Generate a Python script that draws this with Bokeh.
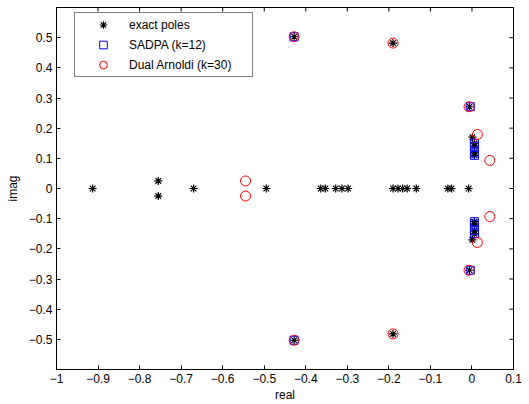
import math
from bokeh.plotting import figure
from bokeh.models import (ColumnDataSource, FixedTicker, Range1d,
                          Legend, LegendItem)
from bokeh.embed import file_html
from bokeh.resources import INLINE

# exact poles of the system (real, imaginary parts)
exact_re = [-0.913, -0.670, -0.495, -0.364, -0.353, -0.328, -0.313, -0.298,
            -0.190, -0.178, -0.167, -0.156, -0.134, -0.058, -0.049, -0.008,
            -0.755, -0.755, -0.428, -0.428, -0.190, -0.190, -0.006, -0.006,
            0.001, 0.001, 0.006, 0.006, 0.006, 0.006, 0.006, 0.006, 0.006, 0.006]
exact_im = [0.0, 0.0, 0.0, 0.0, 0.0, 0.0, 0.0, 0.0,
            0.0, 0.0, 0.0, 0.0, 0.0, 0.0, 0.0, 0.0,
            0.025, -0.025, 0.503, -0.503, 0.482, -0.482, 0.271, -0.271,
            0.170, -0.170, 0.150, -0.150, 0.140, -0.140, 0.118, -0.118, 0.110, -0.110]

# dominant poles found by SADPA
sadpa_re = [-0.428, -0.428, -0.004, -0.004, 0.006, 0.006, 0.006, 0.006,
            0.006, 0.006, 0.006, 0.006]
sadpa_im = [0.503, -0.503, 0.271, -0.271, 0.150, -0.150, 0.140, -0.140,
            0.118, -0.118, 0.110, -0.110]

# poles from dual Arnoldi
dual_re = [-0.545, -0.545, -0.428, -0.428, -0.190, -0.190, -0.007, -0.007,
           0.013, 0.013, 0.043, 0.043]
dual_im = [0.025, -0.025, 0.503, -0.503, 0.482, -0.482, 0.271, -0.271,
           0.179, -0.179, 0.093, -0.093]

x_ticks = [-1.0, -0.9, -0.8, -0.7, -0.6, -0.5, -0.4, -0.3, -0.2, -0.1, 0.0, 0.1]
x_labels = ["\u22121", "\u22120.9", "\u22120.8", "\u22120.7", "\u22120.6", "\u22120.5",
            "\u22120.4", "\u22120.3", "\u22120.2", "\u22120.1", "0", "0.1"]
y_ticks = [-0.5, -0.4, -0.3, -0.2, -0.1, 0.0, 0.1, 0.2, 0.3, 0.4, 0.5]
y_labels = ["\u22120.5", "\u22120.4", "\u22120.3", "\u22120.2", "\u22120.1", "0",
            "0.1", "0.2", "0.3", "0.4", "0.5"]

X_MIN, X_MAX = -1.0, 0.1
Y_MIN, Y_MAX = -0.6, 0.6
FONT = "Liberation Sans"

p = figure(width=529, height=404, output_backend="svg", toolbar_location=None,
           x_range=Range1d(X_MIN, X_MAX), y_range=Range1d(Y_MIN, Y_MAX),
           min_border_left=56, min_border_right=16, min_border_top=7,
           min_border_bottom=32, x_axis_label="real", y_axis_label="imag")
p.xgrid.visible = False
p.ygrid.visible = False
p.outline_line_color = "black"
p.outline_line_width = 1
p.background_fill_color = "white"
p.border_fill_color = "white"

p.xaxis.ticker = FixedTicker(ticks=x_ticks)
p.xaxis.major_label_overrides = dict(zip(x_ticks, x_labels))
p.yaxis.ticker = FixedTicker(ticks=y_ticks)
p.yaxis.major_label_overrides = dict(zip(y_ticks, y_labels))

for ax in p.axis:
    ax.major_tick_in = 4
    ax.major_tick_out = 0
    ax.minor_tick_in = 0
    ax.minor_tick_out = 0
    ax.axis_line_color = "black"
    ax.major_tick_line_color = "black"
    ax.major_label_text_font = FONT
    ax.major_label_text_font_size = "12px"
    ax.major_label_text_color = "black"
    ax.major_label_standoff = 4
    ax.axis_label_text_font = FONT
    ax.axis_label_text_font_style = "normal"
    ax.axis_label_text_font_size = "12px"
    ax.axis_label_text_color = "black"
p.xaxis.axis_label_standoff = 2
p.yaxis.axis_label_standoff = 6

# inward ticks on the top and right edges of the box
p.ray(x=x_ticks, y=[Y_MAX] * len(x_ticks), length=4, length_units="screen",
      angle=-math.pi / 2, line_color="black", line_width=1)
p.ray(x=[X_MAX] * len(y_ticks), y=y_ticks, length=4, length_units="screen",
      angle=math.pi, line_color="black", line_width=1)

src_e = ColumnDataSource(dict(x=exact_re, y=exact_im))
src_s = ColumnDataSource(dict(x=sadpa_re, y=sadpa_im))
src_d = ColumnDataSource(dict(x=dual_re, y=dual_im))

r_e = p.scatter("x", "y", source=src_e, marker="asterisk", size=8,
                line_color="black", line_width=1.2)
r_s = p.scatter("x", "y", source=src_s, marker="square", size=8,
                line_color="blue", fill_color=None, line_width=1)
r_d = p.scatter("x", "y", source=src_d, marker="circle", size=10,
                line_color="red", fill_color=None, line_width=1)

legend = Legend(items=[
    LegendItem(label="exact poles", renderers=[r_e]),
    LegendItem(label="SADPA (k=12)", renderers=[r_s]),
    LegendItem(label="Dual Arnoldi (k=30)", renderers=[r_d]),
], location=(18, 292))
legend.border_line_color = "black"
legend.border_line_width = 1
legend.background_fill_color = "white"
legend.background_fill_alpha = 1
legend.label_text_font = FONT
legend.label_text_font_size = "12px"
legend.label_text_color = "black"
legend.padding = 2
legend.spacing = 1
legend.margin = 0
legend.glyph_width = 52
legend.glyph_height = 19
legend.label_height = 19
legend.label_standoff = 0
legend.label_width = 121
p.add_layout(legend, "center")

open("out.html", "w").write(file_html(p, INLINE))
